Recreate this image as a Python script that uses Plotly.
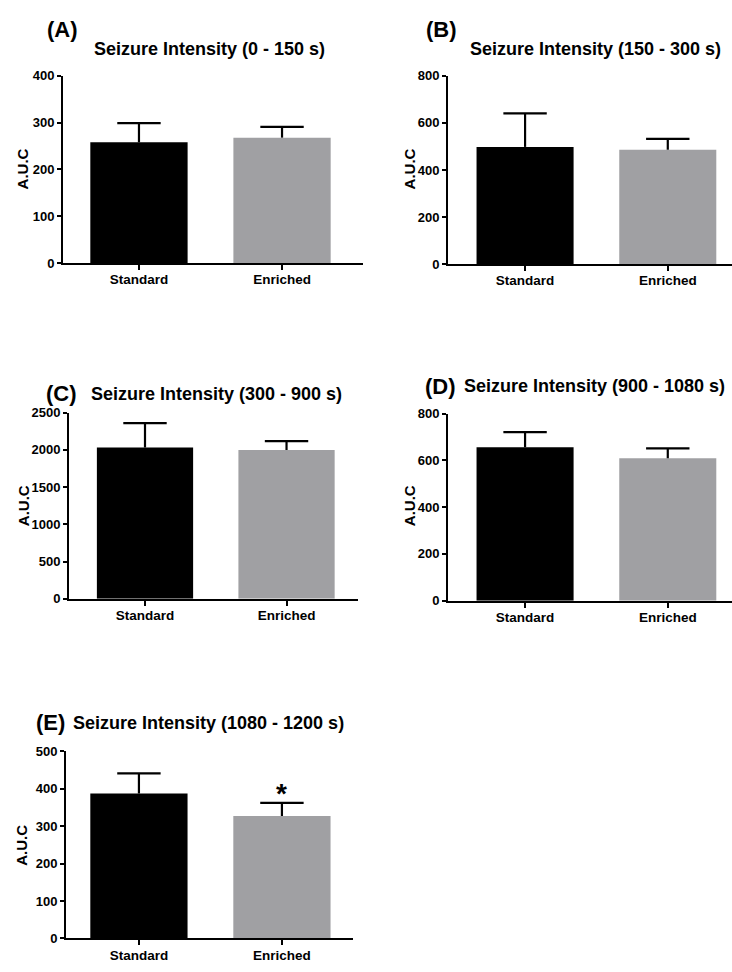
import plotly.graph_objects as go

W, H = 732, 972

categories = ["Standard", "Enriched"]
colors = ["#000000", "#a0a0a3"]

mean_A = [258, 268]
sem_A = [41, 23]
mean_B = [498, 486]
sem_B = [143, 46]
mean_C = [2033, 1997]
sem_C = [325, 119]
mean_D = [656, 609]
sem_D = [65, 42]
mean_E = [387, 327]
sem_E = [54, 35]

titles = ["Seizure Intensity (0 - 150 s)", "Seizure Intensity (150 - 300 s)",
          "Seizure Intensity (300 - 900 s)", "Seizure Intensity (900 - 1080 s)",
          "Seizure Intensity (1080 - 1200 s)"]
letters = ["(A)", "(B)", "(C)", "(D)", "(E)"]
ymax = [400, 800, 2500, 800, 500]
ydtick = [100, 200, 500, 200, 100]

means = [mean_A, mean_B, mean_C, mean_D, mean_E]
sems = [sem_A, sem_B, sem_C, sem_D, sem_E]

# layout geometry in pixels: x-axis left/right, y top/bottom, x data range
geo = [
    dict(x0=63, x1=363, y0=70, y1=260, xr=[-0.531, 1.566],
         letter=(45, 23), title=(92, 43), ytitle=(22, 165)),
    dict(x0=448, x1=733, y0=70, y1=261, xr=[-0.54, 1.45],
         letter=(424, 23), title=(468, 43), ytitle=(409, 165)),
    dict(x0=69, x1=358, y0=412, y1=601, xr=[-0.537, 1.505],
         letter=(44, 393), title=(89, 393), ytitle=(23, 507)),
    dict(x0=448, x1=733, y0=413, y1=603, xr=[-0.54, 1.45],
         letter=(423, 385), title=(462, 385), ytitle=(409, 507)),
    dict(x0=66, x1=353, y0=756, y1=946, xr=[-0.51, 1.497],
         letter=(34, 727), title=(71, 727), ytitle=(22, 852)),
]

FONT = "Arial, Liberation Sans, sans-serif"

fig = go.Figure()
annotations = []

for i in range(5):
    g = geo[i]
    xa = "x" if i == 0 else f"x{i+1}"
    ya = "y" if i == 0 else f"y{i+1}"
    m, s = means[i], sems[i]
    fig.add_trace(go.Bar(
        x=categories, y=m, width=0.68,
        marker=dict(color=colors, line=dict(width=0)),
        xaxis=xa, yaxis=ya, showlegend=False, hoverinfo="skip",
    ))
    # upward-only error bars: stems from bar top to mean + SEM
    sx, sy = [], []
    for c, mv, sv in zip(categories, m, s):
        sx += [c, c, None]
        sy += [mv, mv + sv, None]
    fig.add_trace(go.Scatter(
        x=sx, y=sy, mode="lines", line=dict(color="black", width=2.2),
        xaxis=xa, yaxis=ya, showlegend=False, hoverinfo="skip",
    ))
    # caps
    fig.add_trace(go.Scatter(
        x=categories, y=[mv + sv for mv, sv in zip(m, s)], mode="markers",
        marker=dict(symbol="line-ew", size=31, color="black",
                    line=dict(color="black", width=2.2)),
        xaxis=xa, yaxis=ya, showlegend=False, hoverinfo="skip", cliponaxis=False,
    ))
    xkey = "xaxis" if i == 0 else f"xaxis{i+1}"
    ykey = "yaxis" if i == 0 else f"yaxis{i+1}"
    fig.update_layout(**{
        xkey: dict(domain=[g["x0"] / W, min(g["x1"] / W, 1.0)], anchor=ya,
                   range=g["xr"], type="category",
                   showline=True, linecolor="black", linewidth=2,
                   ticks="outside", ticklen=5, tickwidth=2, tickcolor="black",
                   ticklabelstandoff=-2,
                   showgrid=False, zeroline=False,
                   tickfont=dict(family=FONT, size=13.5, color="black", weight="bold")),
        ykey: dict(domain=[1 - g["y1"] / H, 1 - g["y0"] / H], anchor=xa,
                   range=[0, ymax[i]], dtick=ydtick[i], tick0=0,
                   showline=True, linecolor="black", linewidth=2,
                   ticks="outside", ticklen=4, tickwidth=2, tickcolor="black",
                   showgrid=False, zeroline=False,
                   tickfont=dict(family=FONT, size=13, color="black", weight="bold")),
    })
    annotations.append(dict(
        xref="paper", yref="paper", x=g["letter"][0] / W, y=1 - g["letter"][1] / H,
        xanchor="left", yanchor="middle", showarrow=False, text=letters[i],
        font=dict(family=FONT, size=22, color="black", weight="bold")))
    annotations.append(dict(
        xref="paper", yref="paper", x=g["title"][0] / W, y=1 - g["title"][1] / H,
        xanchor="left", yanchor="middle", showarrow=False, text=titles[i],
        font=dict(family=FONT, size=18, color="black", weight="bold")))
    annotations.append(dict(
        xref="paper", yref="paper", x=g["ytitle"][0] / W, y=1 - g["ytitle"][1] / H,
        xanchor="center", yanchor="middle", showarrow=False, text="A.U.C",
        textangle=-90,
        font=dict(family=FONT, size=15, color="black", weight="bold")))

# significance star above Enriched in panel E
annotations.append(dict(
    xref="x5", yref="y5", x=categories[1], y=mean_E[1] + sem_E[1],
    xanchor="center", yanchor="bottom", yshift=-8, showarrow=False, text="*",
    font=dict(family=FONT, size=28, color="black", weight="bold")))

fig.update_layout(
    width=W, height=H, margin=dict(l=0, r=0, t=0, b=0),
    paper_bgcolor="white", plot_bgcolor="white",
    annotations=annotations,
)

fig.write_html("out.html")
